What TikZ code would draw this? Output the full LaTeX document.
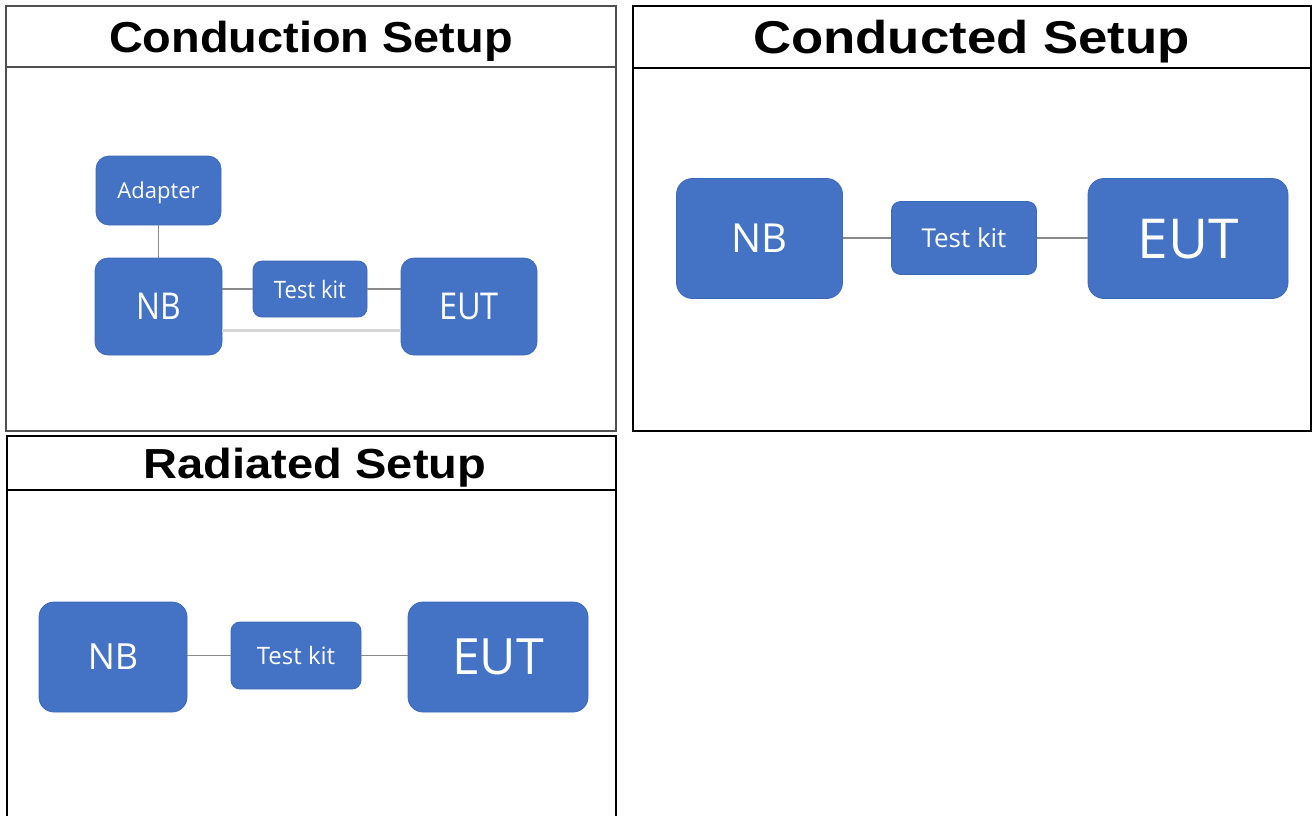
\documentclass[tikz,border=0pt]{standalone}
\usepackage{fontspec}
\setmainfont{Liberation Sans}
\newfontfamily\boxfont{Open Sans}
\definecolor{boxblue}{HTML}{4472C4}
\definecolor{boxedge}{HTML}{3D68B8}
\definecolor{linegray}{HTML}{8A8A8A}
\definecolor{lightline}{HTML}{D6D6D6}
\definecolor{panelgray}{HTML}{505050}
\newcommand{\hsq}[2]{\scalebox{#1}[1]{#2}}
\tikzset{
  blk/.style={draw=boxedge, line width=0.8pt, fill=boxblue, rounded corners=13pt,
    text=white, inner sep=0pt, text depth=0pt, font=\boxfont},
  smallblk/.style={blk, rounded corners=9pt},
  conn/.style={draw=linegray, line width=1.3pt},
  softconn/.style={draw=lightline, line width=3pt},
  paneledge/.style={draw=panelgray, line width=1.5pt},
  panelblack/.style={draw=black, line width=2pt},
  titletext/.style={anchor=base, inner sep=0pt, font=\bfseries}
}
\begin{document}
\begin{tikzpicture}[x=1pt,y=-1pt]
\useasboundingbox (0,0) rectangle (1312,815);
\fill[white] (0,0) rectangle (1312,815);

% ---------- Panel 1: Conduction Setup ----------
\draw[paneledge] (6,6) rectangle (616,431);
\draw[paneledge] (6,67) -- (616,67);
\node[titletext] (t1) at (311,52) {\fontsize{43.3}{50}\selectfont\hsq{1.083}{Conduction Setup}};

\node[blk, minimum width=125pt, minimum height=69pt] (adapter) at (158.5,190.5)
  {\fontsize{22}{26}\selectfont Adapter};
\node[blk, minimum width=127pt, minimum height=97pt] (nb1) at (158.5,306.5)
  {\fontsize{37}{44}\selectfont\hsq{0.86}{NB}};
\node[smallblk, minimum width=114pt, minimum height=56pt] (tk1) at (310,289)
  {\fontsize{24}{28}\selectfont\hsq{0.92}{Test kit}};
\node[blk, minimum width=136pt, minimum height=97pt] (eut1) at (469,306.5)
  {\fontsize{37}{44}\selectfont\hsq{0.88}{EUT}};

\draw[conn] (adapter) -- (nb1);
\draw[conn] (nb1.east |- tk1) -- (tk1.west);
\draw[conn] (tk1.east) -- (eut1.west |- tk1);
\draw[softconn] ([yshift=-23.5pt]nb1.east) -- ([yshift=-23.5pt]eut1.west);

% ---------- Panel 2: Conducted Setup ----------
\draw[panelblack] (633,6) rectangle (1311,431);
\draw[panelblack] (633,68) -- (1311,68);
\node[titletext] (t2) at (971.5,53) {\fontsize{46}{54}\selectfont\hsq{1.147}{Conducted Setup}};

\node[blk, rounded corners=16pt, minimum width=166pt, minimum height=120pt] (nb2) at (759.5,238.5)
  {\fontsize{40}{48}\selectfont NB};
\node[smallblk, minimum width=145pt, minimum height=73pt] (tk2) at (964,238)
  {\fontsize{26}{30}\selectfont Test kit};
\node[blk, rounded corners=16pt, minimum width=200pt, minimum height=120pt] (eut2) at (1188,238.5)
  {\fontsize{55}{64}\selectfont EUT};

\draw[conn] (nb2.east |- tk2) -- (tk2.west);
\draw[conn] (tk2.east) -- (eut2.west |- tk2);

% ---------- Panel 3: Radiated Setup ----------
\draw[panelblack] (7,816) -- (7,436) -- (616,436) -- (616,816);
\draw[panelblack] (7,490) -- (616,490);
\node[titletext] (t3) at (315,478) {\fontsize{42}{50}\selectfont\hsq{1.12}{Radiated Setup}};

\node[blk, rounded corners=15pt, minimum width=148pt, minimum height=110pt] (nb3) at (113,657)
  {\fontsize{36}{42}\selectfont NB};
\node[smallblk, minimum width=130pt, minimum height=67pt] (tk3) at (296,655.5)
  {\fontsize{24}{28}\selectfont Test kit};
\node[blk, rounded corners=15pt, minimum width=180pt, minimum height=110pt] (eut3) at (498,657)
  {\fontsize{50}{58}\selectfont EUT};

\draw[conn] (nb3.east |- tk3) -- (tk3.west);
\draw[conn] (tk3.east) -- (eut3.west |- tk3);
\end{tikzpicture}
\end{document}
